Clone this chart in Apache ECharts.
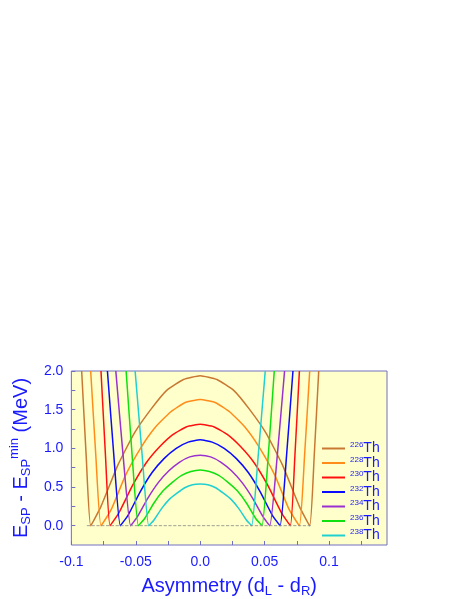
<!DOCTYPE html>
<html><head><meta charset="utf-8">
<script src="https://cdn.jsdelivr.net/npm/echarts@6/dist/echarts.min.js"></script>
<style>html,body{margin:0;background:#fff}#c{width:463px;height:599px}</style>
</head><body><div id="c"></div>
<script>
// half curves (x >= 0), mirrored for x < 0
var names = ['226', '228', '230', '232', '234', '236', '238'];
var colors = ['#c87832', '#ff8c1a', '#ff1010', '#0a0aff', '#9a30d0', '#10e010', '#20d0d0'];
var xs226 = [0, .013, .026, .038, .051, .064, .077, .085, .0885, .092];
var ys226 = [1.94, 1.89, 1.75, 1.51, 1.20, .78, .25, 0, .9, 2.0];
var xs228 = [0, .012, .023, .035, .046, .058, .069, .077, .081, .085];
var ys228 = [1.63, 1.59, 1.47, 1.27, 1.01, .65, .21, 0, .9, 2.0];
var xs230 = [0, .0105, .021, .0315, .042, .0525, .063, .070, .0735, .077];
var ys230 = [1.31, 1.28, 1.18, 1.02, .81, .52, .17, 0, .9, 2.0];
var xs232 = [0, .0093, .0186, .0279, .0372, .0465, .0558, .062, .067, .072];
var ys232 = [1.11, 1.08, 1.0, .87, .69, .44, .14, 0, .9, 2.0];
var xs234 = [0, .0081, .0162, .0243, .0324, .0405, .0486, .054, .0598, .0655];
var ys234 = [.91, .89, .82, .71, .56, .36, .12, 0, .9, 2.0];
var xs236 = [0, .0072, .0144, .0216, .0288, .036, .0432, .048, .0528, .0575];
var ys236 = [.72, .70, .65, .56, .45, .29, .09, 0, .9, 2.0];
var xs238 = [0, .006, .012, .018, .024, .030, .036, .040, .045, .0505];
var ys238 = [.54, .53, .49, .42, .34, .22, .07, 0, .9, 2.0];
var halves = [[xs226, ys226], [xs228, ys228], [xs230, ys230], [xs232, ys232], [xs234, ys234], [xs236, ys236], [xs238, ys238]];

var blue = '#1a1aff';
var series = halves.map(function (h, i) {
  var d = [];
  for (var k = h[0].length - 1; k > 0; k--) d.push([-h[0][k], h[1][k]]);
  for (var k = 0; k < h[0].length; k++) d.push([h[0][k], h[1][k]]);
  return {
    name: names[i], type: 'line', data: d, symbol: 'none', smooth: 0.15,
    lineStyle: { color: colors[i], width: 1.5 }, itemStyle: { color: colors[i] }
  };
});
series.push({
  type: 'line', data: [[-0.088, 0], [0.087, 0]], symbol: 'none', silent: true,
  lineStyle: { color: '#888', width: 0.8, type: 'dashed' }
});

var chart = echarts.init(document.getElementById('c'));
chart.setOption({
  animation: false,
  grid: { left: 64, top: 371, width: 323, height: 181, show: true, backgroundColor: '#ffffcc', borderColor: '#7070c0', borderWidth: 1 },
  legend: {
    orient: 'vertical', left: 317, top: 436, itemWidth: 23, itemHeight: 2, itemGap: 0,
    icon: 'rect', data: names,
    formatter: function (n) { return '{s|' + n + '}{b|Th}'; },
    textStyle: { rich: { s: { fontSize: 8, color: blue, padding: [0, 0, 7, 0] }, b: { fontSize: 14, color: blue, lineHeight: 15.5 } } }
  },
  xAxis: {
    type: 'value', min: -0.1, max: 0.145, interval: 0.025,
    axisLine: { show: false, onZero: false }, splitLine: { show: false },
    axisTick: { inside: true, length: 4, lineStyle: { color: '#7070c0' } },
    axisLabel: {
      color: blue, fontSize: 14, showMaxLabel: false, margin: 10,
      formatter: function (v) {
        var r = Math.round(v * 1000);
        if (r % 50 !== 0) return '';
        return { '-100': '-0.1', '-50': '-0.05', '0': '0.0', '50': '0.05', '100': '0.1' }[r];
      }
    },
    name: '{t|Asymmetry (d}{u|L}{t| - d}{u|R}{t|)}', nameLocation: 'middle', nameGap: 30,
    nameTextStyle: { rich: { t: { fontSize: 20, color: blue }, u: { fontSize: 13, color: blue, padding: [10, 0, 0, 0] } } }
  },
  yAxis: {
    type: 'value', min: -0.25, max: 2.0, interval: 0.25,
    axisLine: { show: false, onZero: false }, splitLine: { show: false },
    axisTick: { inside: true, length: 4, lineStyle: { color: '#7070c0' } },
    axisLabel: {
      color: blue, fontSize: 14, showMinLabel: false,
      formatter: function (v) { var r = Math.round(v * 100); return r % 50 === 0 ? v.toFixed(1) : ''; }
    },
    name: '{t|E}{u|SP}{t| - E}{u|SP}{p|min}{t| (MeV)}', nameLocation: 'middle', nameGap: 36, nameRotate: 90,
    nameTextStyle: { rich: { t: { fontSize: 20, color: blue }, u: { fontSize: 13, color: blue, padding: [10, 0, 0, 0] }, p: { fontSize: 13, color: blue, padding: [0, 0, 14, 0] } } }
  },
  series: series
});
</script></body></html>
